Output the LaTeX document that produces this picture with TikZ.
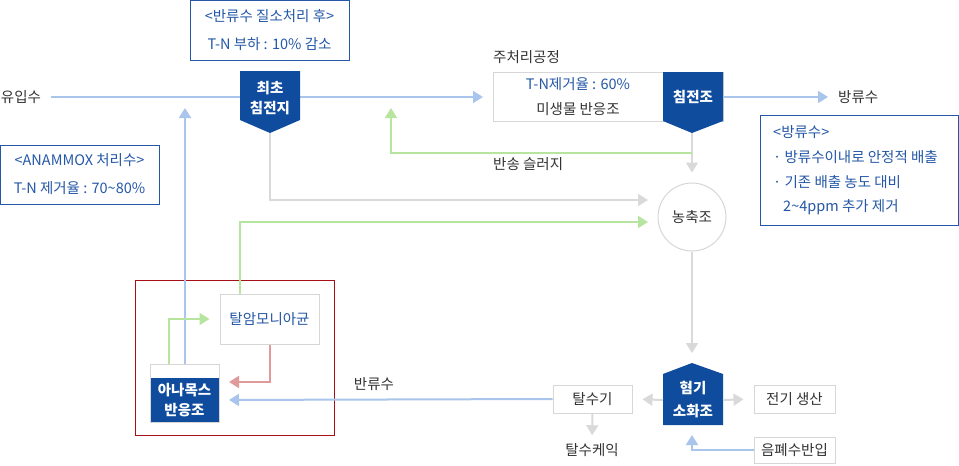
\documentclass[tikz,border=0pt]{standalone}
\usepackage{fontspec}
\setmainfont{Noto Sans CJK KR}
\usetikzlibrary{arrows.meta,calc}
\definecolor{dblue}{HTML}{0F4C9E}
\definecolor{tblue}{HTML}{2457A6}
\definecolor{lblue}{HTML}{A9C5EB}
\definecolor{lgreen}{HTML}{B7E5A0}
\definecolor{lgray}{HTML}{D9D9D9}
\definecolor{bgray}{HTML}{D6D6D6}
\definecolor{lred}{HTML}{E09A9A}
\definecolor{dred}{HTML}{A50F15}
\definecolor{txt}{HTML}{333333}
\begin{document}
\begin{tikzpicture}[x=1pt,y=-1pt,
  every node/.style={font=\fontsize{14.5}{28}\selectfont, text=txt, inner sep=0pt},
  conn/.style={line width=2pt,-{Triangle[length=10pt,width=12pt]}},
  infobox/.style={draw=tblue, line width=1pt, text=tblue, align=center},
  graybox/.style={draw=bgray, line width=1pt, fill=white},
  whitetxt/.style={text=white, font=\fontsize{14.5}{20}\selectfont\bfseries, align=center},
  pent/.style={fill=dblue}
]
\useasboundingbox (0,0) rectangle (959,466);

% ---------- nodes ----------
\node (inflow) at (21,97) {유입수};
\node[infobox, minimum width=159, minimum height=60] (topbox) at (269.5,30) {<반류수 질소처리 후>\\T-N 부하 : 10\% 감소};
\node[infobox, minimum width=159, minimum height=59] (anbox) at (79.5,174.5) {<ANAMMOX 처리수>\\T-N 제거율 : 70\textasciitilde80\%};

\node[anchor=west] (mainlbl) at (493,57) {주처리공정};
\node[graybox, minimum width=230, minimum height=49] (mainbox) at (608,96.5) {};
\node[text=tblue] (mainl1) at (578,84) {T-N제거율 : 60\%};
\node (mainl2) at (578,109) {미생물 반응조};

% secondary clarifier pentagon
\fill[pent] (663,72) -- (723,72) -- (723,121) -- (692,133) -- (663,121) -- cycle;
\node[whitetxt] (sec) at (693,97) {침전조};
\coordinate (sectip) at (692,133);
\coordinate (seceast) at (723,97);

\node[anchor=west] (effl) at (838,97) {방류수};
\node[draw=tblue, line width=1pt, minimum width=198, minimum height=110] (effbox) at (859,170) {};
\node[anchor=west, text=tblue] (e1) at (773,132) {<방류수>};
\node[anchor=west, text=tblue] (e2) at (773,157) {· 방류수이내로 안정적 배출};
\node[anchor=west, text=tblue] (e3) at (773,182) {· 기존 배출 농도 대비};
\node[anchor=west, text=tblue] (e4) at (783,207) {2\textasciitilde4ppm 추가 제거};

\node[anchor=west] (rsl) at (493,164) {반송 슬러지};

\node[draw=bgray, line width=1pt, circle, minimum size=68] (thick) at (692,217) {농축조};

% anaerobic digester
\fill[pent] (692,363) -- (723,374) -- (723,425) -- (663,425) -- (663,374) -- cycle;
\node[whitetxt, font=\fontsize{14.5}{23}\selectfont\bfseries] (dig) at (693,400) {혐기\\소화조};
\coordinate (digtop) at (692,363);
\coordinate (digwest) at (663,400);
\coordinate (digeast) at (723,400);
\coordinate (digbot) at (692,425);

\node[graybox, minimum width=79, minimum height=28] (dew) at (592.5,399) {탈수기};
\node[graybox, minimum width=81, minimum height=28] (elec) at (794.5,399) {전기 생산};
\node[graybox, minimum width=81, minimum height=26] (food) at (794.5,450) {음폐수반입};
\node (cake) at (592,450) {탈수케익};
\node (retl) at (374,384) {반류수};

% red box and contents
\node[draw=dred, line width=1pt, minimum width=199, minimum height=155] (redbox) at (234.5,357.5) {};
\node[graybox, minimum width=99, minimum height=50, text=tblue] (deam) at (269.5,319) {탈암모니아균};
\node[draw=bgray, line width=1pt, fill=white, minimum width=69, minimum height=58] (anr) at (184.5,393) {};
\fill[dblue] (150.5,378) rectangle (218.5,421.5);
\node[whitetxt, font=\fontsize{14.5}{20}\selectfont\bfseries] (anrt) at (184.5,400) {아나목스\\반응조};

% ---------- connectors ----------
\coordinate (mainW) at (493,97);
\draw[conn, lblue, shorten <=10pt, shorten >=10pt] (inflow.east) -- (mainW);
% first clarifier pentagon (over the inflow line)
\fill[pent] (240,71) -- (300,71) -- (300,120) -- (270,133) -- (240,120) -- cycle;
\node[whitetxt] (prim) at (270,98) {최초\\침전지};
\coordinate (primtip) at (270,133);

\draw[conn, lblue, shorten >=10pt] (seceast) -- (effl.west);
\draw[conn, lgray, shorten >=10pt] (sectip) -- (thick.north);
\coordinate (grnS) at (692,153);
\coordinate (grnUp) at (391,97);
\draw[conn, lgreen, shorten >=11pt] (grnS) -| (grnUp);

\coordinate (grayEnd) at (648,200);
\draw[conn, lgray] (primtip) |- (grayEnd);
\coordinate (deamN) at (240,294);
\coordinate (greenEnd) at (648,222);
\draw[conn, lgreen] (deamN) |- (greenEnd);

\draw[conn, lgray, shorten >=10pt] (thick.south) -- (digtop);
\draw[conn, lgray, shorten >=10pt] (digwest) -- (dew.east);
\draw[conn, lgray, shorten >=10pt] (digeast) -- (elec.west);
\draw[conn, lblue, shorten >=10pt] (food.west) -| (digbot);
\draw[conn, lgray, shorten >=8pt] (dew.south) -- (cake.north);
\coordinate (anrE) at (219,400);
\draw[conn, lblue, shorten >=10pt] (dew.west) -- (anrE);

\coordinate (anrTopB) at (185,364);
\coordinate (blueUp) at (185,97);
\draw[conn, lblue, shorten >=11pt] (anrTopB) -- (blueUp);
\coordinate (anrTopG) at (169,364);
\draw[conn, lgreen, shorten >=10pt] (anrTopG) |- (deam.west);
\coordinate (anrE2) at (219,382);
\draw[conn, lred, shorten >=10pt] (deam.south) |- (anrE2);
\end{tikzpicture}
\end{document}
